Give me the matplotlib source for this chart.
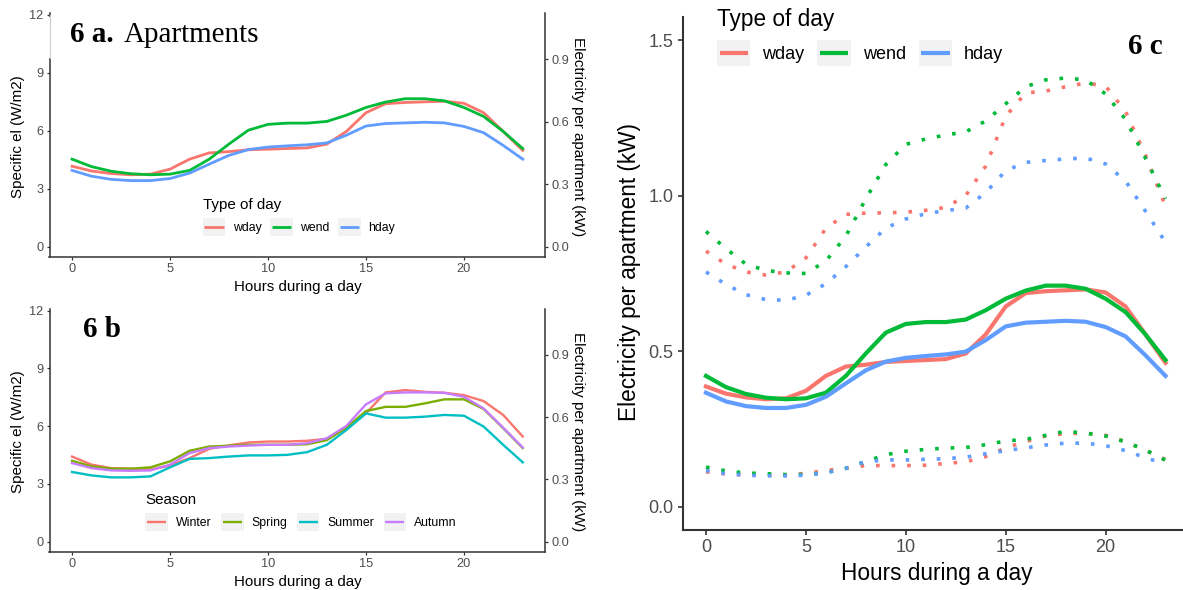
import matplotlib
matplotlib.use('Agg')
import matplotlib.pyplot as plt
from matplotlib.legend_handler import HandlerBase
from matplotlib.patches import Rectangle
from matplotlib.lines import Line2D
from matplotlib.ticker import FormatStrFormatter

plt.rcParams['font.family'] = ['Liberation Sans', 'DejaVu Sans']

# ---------------- data ----------------
hours = list(range(24))
day_types = ['wday', 'wend', 'hday']
seasons = ['Winter', 'Spring', 'Summer', 'Autumn']

# mean electricity per apartment (kW)
wday_mean = [0.387, 0.364, 0.352, 0.346, 0.349, 0.373, 0.421, 0.451, 0.457, 0.466, 0.469, 0.472,
             0.475, 0.493, 0.554, 0.644, 0.687, 0.693, 0.696, 0.699, 0.689, 0.644, 0.554, 0.463]
wend_mean = [0.421, 0.385, 0.363, 0.351, 0.346, 0.349, 0.367, 0.421, 0.493, 0.560, 0.588, 0.594,
             0.594, 0.602, 0.632, 0.669, 0.695, 0.711, 0.711, 0.701, 0.669, 0.626, 0.554, 0.472]
hday_mean = [0.367, 0.339, 0.324, 0.318, 0.318, 0.328, 0.354, 0.397, 0.439, 0.467, 0.479, 0.485,
             0.490, 0.499, 0.536, 0.580, 0.592, 0.595, 0.598, 0.595, 0.578, 0.548, 0.487, 0.421]
# upper band (kW)
wday_hi = [0.822, 0.78, 0.755, 0.745, 0.755, 0.80, 0.895, 0.94, 0.944, 0.945, 0.947, 0.953,
           0.962, 1.0, 1.095, 1.255, 1.33, 1.336, 1.35, 1.362, 1.352, 1.27, 1.13, 0.965]
wend_hi = [0.885, 0.83, 0.78, 0.76, 0.752, 0.75, 0.79, 0.87, 0.99, 1.10, 1.165, 1.182,
           1.195, 1.205, 1.24, 1.295, 1.35, 1.372, 1.378, 1.372, 1.327, 1.245, 1.12, 0.99]
hday_hi = [0.755, 0.715, 0.682, 0.666, 0.664, 0.68, 0.717, 0.772, 0.835, 0.896, 0.925, 0.942,
           0.952, 0.96, 1.01, 1.08, 1.107, 1.113, 1.118, 1.121, 1.102, 1.047, 0.95, 0.85]
# lower band (kW)
wday_lo = [0.113, 0.106, 0.103, 0.102, 0.103, 0.108, 0.117, 0.125, 0.133, 0.133, 0.133, 0.134,
           0.14, 0.145, 0.162, 0.19, 0.21, 0.228, 0.236, 0.237, 0.23, 0.21, 0.182, 0.152]
wend_lo = [0.128, 0.116, 0.109, 0.107, 0.104, 0.104, 0.11, 0.124, 0.146, 0.168, 0.179, 0.185,
           0.189, 0.191, 0.2, 0.212, 0.217, 0.23, 0.243, 0.237, 0.228, 0.209, 0.183, 0.15]
hday_lo = [0.117, 0.107, 0.102, 0.1, 0.1, 0.102, 0.11, 0.124, 0.146, 0.151, 0.151, 0.153,
           0.155, 0.16, 0.171, 0.181, 0.19, 0.199, 0.205, 0.205, 0.197, 0.181, 0.158, 0.138]

# specific electricity by season (W/m2)
winter = [4.42, 4.0, 3.82, 3.79, 3.75, 3.95, 4.34, 4.82, 5.0, 5.15, 5.2, 5.2,
          5.24, 5.34, 5.89, 6.67, 7.75, 7.87, 7.78, 7.73, 7.61, 7.3, 6.58, 5.46]
spring = [4.2, 3.91, 3.79, 3.79, 3.86, 4.17, 4.72, 4.94, 4.98, 5.03, 5.03, 5.03,
          5.06, 5.27, 5.92, 6.78, 7.0, 7.0, 7.18, 7.39, 7.39, 6.89, 5.89, 4.86]
summer = [3.62, 3.44, 3.34, 3.34, 3.39, 3.86, 4.3, 4.34, 4.42, 4.48, 4.48, 4.51,
          4.65, 5.03, 5.8, 6.66, 6.44, 6.44, 6.49, 6.58, 6.54, 5.98, 5.03, 4.12]
autumn = [4.08, 3.82, 3.7, 3.68, 3.7, 4.0, 4.6, 4.86, 4.94, 4.99, 5.03, 5.03,
          5.11, 5.37, 6.01, 7.13, 7.7, 7.75, 7.75, 7.73, 7.52, 6.92, 5.92, 4.89]

KW_PER_WM2 = 0.0928   # apartment area factor (kW per W/m2)

left_ticks = [0, 3, 6, 9, 12]
right_ticks = [0.0, 0.3, 0.6, 0.9]
x_ticks = [0, 5, 10, 15, 20]
c_ticks = [0.0, 0.5, 1.0, 1.5]

# ---------------- style ----------------
W, H = 1183, 590
fig = plt.figure(figsize=(W / 100, H / 100), dpi=100)

def px_rect(l, t, r, b):
    return [l / W, 1 - b / H, (r - l) / W, (b - t) / H]

COL3 = ['#F8766D', '#00BA38', '#619CFF']
COL4 = ['#F8766D', '#7CAE00', '#00BFC4', '#C77CFF']
TXT_GREY = '#4D4D4D'
AX_COL = '#333333'


class KeyHandler(HandlerBase):
    def create_artists(self, legend, orig_handle, xdescent, ydescent, width, height, fontsize, trans):
        bg = Rectangle((-xdescent, -ydescent), width, height, facecolor='#F2F2F2',
                       edgecolor='none', transform=trans)
        pad = 0.14 * fontsize
        y = height / 2 - ydescent
        ln = Line2D([-xdescent + pad, -xdescent + width - pad], [y, y],
                    color=orig_handle.get_color(), lw=orig_handle.get_linewidth(),
                    solid_capstyle='butt')
        ln.set_transform(trans)
        return [bg, ln]


def style_axes(ax, spine_lw, tick_len, tick_size, pad):
    ax.spines[['top', 'right']].set_visible(False)
    for s in ['left', 'bottom']:
        ax.spines[s].set_linewidth(spine_lw)
        ax.spines[s].set_color(AX_COL)
    ax.tick_params(labelsize=tick_size, labelcolor=TXT_GREY, color=AX_COL,
                   length=tick_len, width=spine_lw * 0.8, pad=pad)


def small_panel(rect, series, labels, colors, lw, legend_title, legend_anchor, colsp):
    ax = fig.add_axes(rect)
    lines = []
    for vals, lab, c in zip(series, labels, colors):
        ln, = ax.plot(hours, vals, color=c, lw=lw, solid_joinstyle='round', label=lab)
        lines.append(ln)
    ax.set_xlim(-1.15, 24.15)
    ax.set_ylim(-0.55, 12.08)
    ax.set_xticks(x_ticks)
    ax.set_yticks(left_ticks)
    style_axes(ax, 1.1, 2.3, 9.2, 2.0)
    ax.set_xlabel('Hours during a day', fontsize=10.9)
    ax.set_ylabel('Specific el (W/m2)', fontsize=10.9)
    ax.xaxis.set_label_coords(0.501, -0.122)
    ax.yaxis.set_label_coords(-0.0645, 0.497)
    ax.xaxis.label.set(va='center', ha='center')
    ax.yaxis.label.set(va='center', ha='center')

    sec = ax.secondary_yaxis('right', functions=(lambda v: v * KW_PER_WM2,
                                                  lambda v: v / KW_PER_WM2))
    sec.set_yticks(right_ticks)
    sec.yaxis.set_major_formatter(FormatStrFormatter('%.1f'))
    sec.spines['right'].set_linewidth(1.1)
    sec.spines['right'].set_color(AX_COL)
    sec.tick_params(labelsize=9.2, labelcolor=TXT_GREY, color=AX_COL, length=2.3,
                    width=0.9, pad=2.0)
    sec.set_ylabel('Electricity per apartment (kW)', fontsize=10.9, rotation=270)
    sec.yaxis.set_label_coords(1.066, 0.497, transform=ax.transAxes)
    sec.yaxis.label.set(va='center', ha='center')

    ax.legend(lines, labels, handler_map={Line2D: KeyHandler()}, ncol=len(labels),
              frameon=False, loc='upper left',
              bbox_to_anchor=(legend_anchor[0] / W, 1 - legend_anchor[1] / H),
              bbox_transform=fig.transFigure, borderpad=0, borderaxespad=0,
              handlelength=1.85, handleheight=1.82, handletextpad=0.62,
              columnspacing=colsp, labelspacing=0.5, title=legend_title,
              title_fontsize=10.9, fontsize=8.8, alignment='left')
    return ax


# ---------- 6a ----------
ax_a = small_panel(px_rect(49.5, 13.3, 545.3, 257.5),
                   [[v / KW_PER_WM2 for v in wday_mean],
                    [v / KW_PER_WM2 for v in wend_mean],
                    [v / KW_PER_WM2 for v in hday_mean]],
                   day_types, COL3, 2.0, 'Type of day', (202.7, 198.0), 0.7)

# ---------- 6b ----------
ax_b = small_panel(px_rect(49.5, 309.0, 545.3, 552.3),
                   [winter, spring, summer, autumn],
                   seasons, COL4, 1.7, 'Season', (145.4, 493.0), 0.8)

# ---------- 6c ----------
ax_c = fig.add_axes(px_rect(683, 17, 1188.5, 530))
means = [wday_mean, wend_mean, hday_mean]
his = [wday_hi, wend_hi, hday_hi]
los = [wday_lo, wend_lo, hday_lo]
solid_lines = []
for m, c, lab in zip(means, COL3, day_types):
    ln, = ax_c.plot(hours, m, color=c, lw=3.0, solid_joinstyle='round', label=lab)
    solid_lines.append(ln)
for band in (his, los):
    for vals, c in zip(band, COL3):
        ax_c.plot(hours, vals, color=c, lw=2.6, linestyle=(0, (1, 3.3)),
                  dash_capstyle='butt')
ax_c.set_xlim(-1.15, 24.15)
ax_c.set_ylim(-0.074, 1.574)
ax_c.set_xticks(x_ticks)
ax_c.set_yticks(c_ticks)
ax_c.yaxis.set_major_formatter(FormatStrFormatter('%.1f'))
style_axes(ax_c, 1.5, 3.8, 13, 3.0)
ax_c.set_xlabel('Hours during a day', fontsize=16.3)
ax_c.set_ylabel('Electricity per apartment (kW)', fontsize=16.3)
ax_c.xaxis.set_label_coords(0.501, -0.0844)
ax_c.yaxis.set_label_coords(-0.1054, 0.502)
ax_c.xaxis.label.set(va='center', ha='center')
ax_c.yaxis.label.set(va='center', ha='center')
ax_c.legend(solid_lines, day_types, handler_map={Line2D: KeyHandler()}, ncol=3,
            frameon=False, loc='upper left',
            bbox_to_anchor=(717 / W, 1 - 8 / H), bbox_transform=fig.transFigure,
            borderpad=0, borderaxespad=0, handlelength=1.85, handleheight=1.82,
            handletextpad=0.66, columnspacing=0.72, labelspacing=0.5,
            title='Type of day', title_fontsize=16.3, fontsize=13, alignment='left')

# ---------- panel titles ----------
fig.patches.append(Rectangle((48.3 / W, 1 - 58 / H), (272 - 48.3) / W, (58 - 16.5) / H,
                             transform=fig.transFigure, facecolor='white',
                             edgecolor='none', zorder=5))
fig.lines.append(Line2D([49.5 / W, 49.5 / W], [1 - 15 / H, 1 - 58 / H],
                        transform=fig.transFigure, color='#CFCFCF', lw=0.8, zorder=6))
serif = 'Liberation Serif'
fig.text(70 / W, 1 - 41.7 / H, '6 a.', fontfamily=serif, fontweight='bold',
         fontsize=21, va='baseline', zorder=7)
fig.text(123.3 / W, 1 - 41.7 / H, 'Apartments', fontfamily=serif, fontsize=21,
         va='baseline', zorder=7)
fig.text(83.4 / W, 1 - 336.7 / H, '6 b', fontfamily=serif, fontweight='bold',
         fontsize=21, va='baseline', zorder=7)
fig.text(1128 / W, 1 - 54 / H, '6 c', fontfamily=serif, fontweight='bold',
         fontsize=21, va='baseline', zorder=7)

fig.savefig('out.png', dpi=100)
